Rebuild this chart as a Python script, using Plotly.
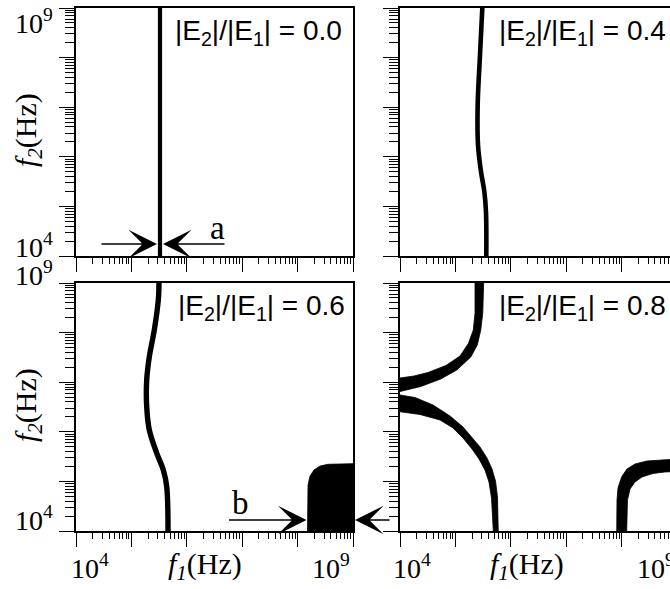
import plotly.graph_objects as go

W, H = 670, 589

# ---------------- data: log10 of frequency (Hz) ----------------
# |E2|/|E1| = 0.0 : single vertical resonance line
R00_LOGF1 = [5.516, 5.516]
R00_LOGF2 = [4.0, 9.0]

# |E2|/|E1| = 0.4 : slightly bent line
R04_LOGF1 = [5.486, 5.444, 5.402, 5.408, 5.462, 5.522, 5.552, 5.558]
R04_LOGF2 = [9.0, 8.05, 7.04, 6.24, 5.70, 5.30, 4.89, 4.0]

# |E2|/|E1| = 0.6 : bent line plus high-frequency region
R06_LOGF1 = [5.498, 5.486, 5.413, 5.323, 5.276, 5.276, 5.323, 5.457, 5.576, 5.637, 5.661]
R06_LOGF2 = [9.0, 8.66, 8.05, 7.51, 7.04, 6.51, 6.04, 5.57, 5.23, 4.90, 4.0]
R06_REGION_LOGF1 = [8.179, 8.179, 8.188, 8.224, 8.296, 8.404, 8.549, 9.0, 9.0]
R06_REGION_LOGF2 = [4.0, 4.625, 4.927, 5.109, 5.230, 5.310, 5.345, 5.357, 4.0]

# |E2|/|E1| = 0.8 : three bands, each given by its two edges
R08_UPPER_A_F1 = [5.354, 5.354, 5.323, 5.236, 5.083, 4.830, 4.505, 4.253, 4.0]
R08_UPPER_A_F2 = [9.0, 8.395, 8.052, 7.784, 7.528, 7.337, 7.196, 7.125, 7.085]
R08_UPPER_B_F1 = [5.510, 5.494, 5.458, 5.395, 5.278, 5.025, 4.736, 4.375, 4.0]
R08_UPPER_B_F2 = [9.0, 8.395, 8.052, 7.750, 7.508, 7.246, 7.065, 6.913, 6.812]

R08_LOWER_A_F1 = [4.0, 4.271, 4.596, 4.903, 5.137, 5.300, 5.444, 5.570, 5.661, 5.724, 5.760, 5.774]
R08_LOWER_A_F2 = [6.742, 6.692, 6.540, 6.319, 6.097, 5.895, 5.694, 5.472, 5.250, 5.008, 4.685, 4.0]
R08_LOWER_B_F1 = [4.0, 4.361, 4.722, 4.957, 5.137, 5.300, 5.426, 5.534, 5.606, 5.652, 5.684]
R08_LOWER_B_F2 = [6.405, 6.349, 6.238, 6.077, 5.875, 5.653, 5.452, 5.230, 4.988, 4.665, 4.0]

R08_RIGHT_A_F1 = [7.912, 7.917, 7.935, 8.002, 8.097, 8.242, 8.458, 8.693, 9.0]
R08_RIGHT_A_F2 = [4.0, 4.625, 4.867, 5.095, 5.250, 5.351, 5.411, 5.435, 5.452]
R08_RIGHT_B_F1 = [8.092, 8.106, 8.152, 8.242, 8.368, 8.567, 8.783, 9.0]
R08_RIGHT_B_F2 = [4.0, 4.625, 4.847, 4.988, 5.089, 5.159, 5.190, 5.200]

RATIOS = ["0.0", "0.4", "0.6", "0.8"]
LOG_MIN, LOG_MAX = 4, 9

# ---------------- layout geometry (pixels) ----------------
LEFT_X = (76, 353)
RIGHT_X = (400, 677)          # right column runs past the page edge
TOP_Y = (8, 256)
BOT_Y = (283, 531)


def px_x(p):
    return p / W


def px_y(p):
    return 1 - p / H


def lg(vals):
    return [10 ** v for v in vals]


def band(a_f1, a_f2, b_f1, b_f2):
    xs = list(a_f1) + list(reversed(b_f1))
    ys = list(a_f2) + list(reversed(b_f2))
    return lg(xs), lg(ys)


fig = go.Figure()

BLACK = "#000000"


def add_line(f1, f2, width, n):
    fig.add_trace(go.Scatter(
        x=lg(f1), y=lg(f2), mode="lines", line=dict(color=BLACK, width=width, shape="spline"),
        xaxis=f"x{n}" if n > 1 else "x", yaxis=f"y{n}" if n > 1 else "y",
        showlegend=False, hoverinfo="skip"))


def add_fill(xs, ys, n):
    fig.add_trace(go.Scatter(
        x=xs, y=ys, mode="lines", fill="toself", fillcolor=BLACK,
        line=dict(color=BLACK, width=0.8),
        xaxis=f"x{n}" if n > 1 else "x", yaxis=f"y{n}" if n > 1 else "y",
        showlegend=False, hoverinfo="skip"))


add_line(R00_LOGF1, R00_LOGF2, 4.2, 1)
add_line(R04_LOGF1, R04_LOGF2, 4.6, 2)
add_line(R06_LOGF1, R06_LOGF2, 5.4, 3)
add_fill(lg(R06_REGION_LOGF1), lg(R06_REGION_LOGF2), 3)
add_fill(*band(R08_UPPER_A_F1, R08_UPPER_A_F2, R08_UPPER_B_F1, R08_UPPER_B_F2), 4)
add_fill(*band(R08_LOWER_A_F1, R08_LOWER_A_F2, R08_LOWER_B_F1, R08_LOWER_B_F2), 4)
add_fill(*band(R08_RIGHT_A_F1, R08_RIGHT_A_F2, R08_RIGHT_B_F1, R08_RIGHT_B_F2), 4)


def x_axis(dom_px, anchor):
    end = LOG_MIN + (LOG_MAX - LOG_MIN) * (min(dom_px[1], W) - dom_px[0]) / (dom_px[1] - dom_px[0])
    return dict(type="log", domain=[px_x(dom_px[0]), px_x(min(dom_px[1], W))],
                range=[LOG_MIN, end], anchor=anchor,
                showline=True, linecolor=BLACK, linewidth=1.5, mirror=True,
                ticks="outside", ticklen=14, tickwidth=1.2, tickcolor=BLACK,
                dtick=1, showticklabels=False, showgrid=False, zeroline=False,
                minor=dict(ticks="outside", ticklen=6, tickwidth=1.1, tickcolor=BLACK,
                           dtick="D1", showgrid=False))


def y_axis(dom_px, anchor, mirror):
    return dict(type="log", domain=[px_y(dom_px[1]), px_y(dom_px[0])],
                range=[LOG_MIN, LOG_MAX], anchor=anchor,
                showline=True, linecolor=BLACK, linewidth=1.5, mirror=mirror,
                ticks="outside", ticklen=15, tickwidth=1.2, tickcolor=BLACK,
                dtick=1, showticklabels=False, showgrid=False, zeroline=False,
                minor=dict(ticks="outside", ticklen=9, tickwidth=1.1, tickcolor=BLACK,
                           dtick="D1", showgrid=False))


fig.update_layout(
    width=W, height=H, margin=dict(l=0, r=0, t=0, b=0),
    paper_bgcolor="white", plot_bgcolor="white", showlegend=False,
    xaxis=x_axis(LEFT_X, "y"), yaxis=y_axis(TOP_Y, "x", True),
    xaxis2=x_axis(RIGHT_X, "y2"), yaxis2=y_axis(TOP_Y, "x2", False),
    xaxis3=x_axis(LEFT_X, "y3"), yaxis3=y_axis(BOT_Y, "x3", True),
    xaxis4=x_axis(RIGHT_X, "y4"), yaxis4=y_axis(BOT_Y, "x4", False),
)

SERIF_FAMILY = "Liberation Serif, Times New Roman, serif"
TICK_FONT = dict(family=SERIF_FAMILY, size=28, color=BLACK)
TITLE_FONT = dict(family=SERIF_FAMILY, size=30, color=BLACK)
LETTER_FONT = dict(family=SERIF_FAMILY, size=33, color=BLACK)
SANS = dict(family="Liberation Sans, Arial, sans-serif", size=28, color=BLACK)

ann = []


def text(x, y, s, font, xanchor="center", yanchor="middle", angle=0):
    ann.append(dict(x=px_x(x), y=px_y(y), xref="paper", yref="paper", text=s,
                    showarrow=False, font=font, xanchor=xanchor, yanchor=yanchor,
                    textangle=angle))


# ratio labels inside each panel
for (lx, ty), r in zip([(173, 13), (497, 13), (176, 288), (497, 288)], RATIOS):
    text(lx, ty, f"|E<sub>2</sub>|/|E<sub>1</sub>| = {r}", SANS, xanchor="left", yanchor="top")

# axis tick labels
DEC4 = "10<sup>4</sup>"
DEC9 = "10<sup>9</sup>"
text(55, 21, DEC9, TICK_FONT, xanchor="right")
text(55, 246, DEC4, TICK_FONT, xanchor="right")
text(55, 274, DEC9, TICK_FONT, xanchor="right")
text(55, 518, DEC4, TICK_FONT, xanchor="right")
text(90, 566, DEC4, TICK_FONT)
text(331, 566, DEC9, TICK_FONT)
text(412, 566, DEC4, TICK_FONT)
text(656, 566, DEC9, TICK_FONT)

# axis titles
F1 = "<i>f</i><sub><i>1</i></sub>(Hz)"
F2 = "<i>f</i><sub><i>2</i></sub>(Hz)"
text(205, 566, F1, TITLE_FONT)
text(527, 566, F1, TITLE_FONT)
text(28, 130, F2, TITLE_FONT, angle=-90)
text(28, 405, F2, TITLE_FONT, angle=-90)

# marker letters
text(217, 228, "a", LETTER_FONT)
text(240, 503, "b", LETTER_FONT)


def arrow(xref, yref, x, y, ax, standoff):
    ann.append(dict(x=x, y=y, xref=xref, yref=yref, ax=ax, ay=0, text="",
                    showarrow=True, arrowhead=3, arrowsize=3.4, arrowwidth=1.4,
                    arrowcolor=BLACK, standoff=standoff))


# arrows pointing at the 0.0 resonance line
line_x = R00_LOGF1[0]
arrow_y_a = 9 - (244 - TOP_Y[0]) / ((TOP_Y[1] - TOP_Y[0]) / 5)
arrow("x", "y", line_x, arrow_y_a, -60, 3)
arrow("x", "y", line_x, arrow_y_a, 66, 3)

# arrows bracketing the high-frequency region at 0.6
arrow_y_b = 9 - (520 - BOT_Y[0]) / ((BOT_Y[1] - BOT_Y[0]) / 5)
arrow("x3", "y3", R06_REGION_LOGF1[0], arrow_y_b, -80, 1)
arrow("x3", "y3", R06_REGION_LOGF1[-1], arrow_y_b, 38, 2)

fig.update_layout(annotations=ann)
fig.write_html("out.html")
